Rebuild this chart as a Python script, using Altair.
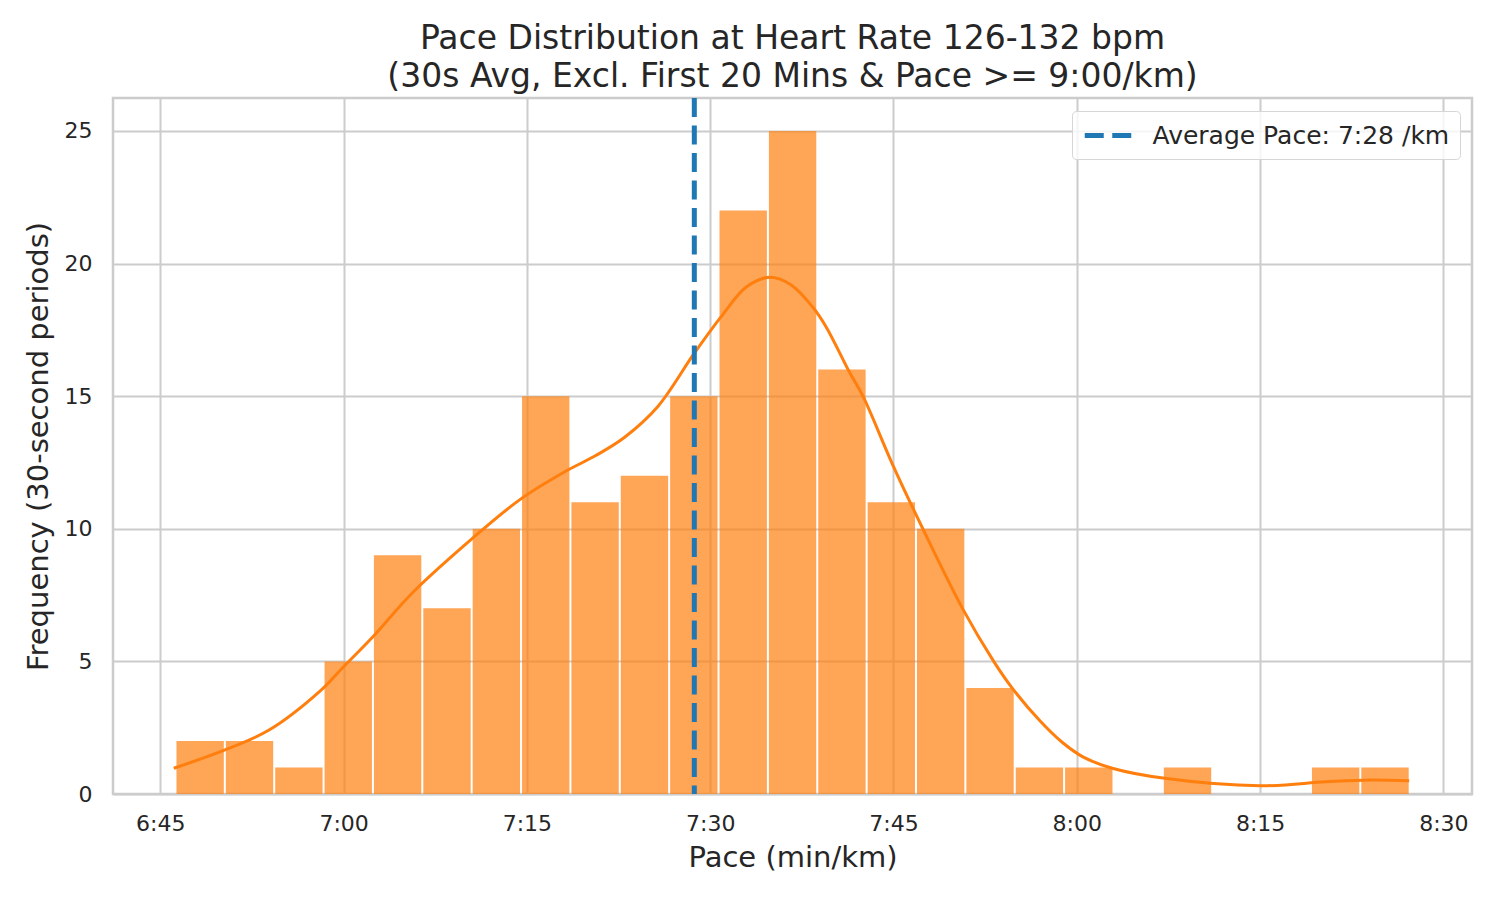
import altair as alt
import pandas as pd

# Histogram bins (pace in seconds per km) and counts
bin_edges = [406.2, 410.24, 414.28, 418.32, 422.36, 426.4, 430.44, 434.48, 438.52,
             442.56, 446.6, 450.64, 454.68, 458.72, 462.76, 466.8, 470.84, 474.88,
             478.92, 482.96, 487.0, 491.04, 495.08, 499.12, 503.16, 507.2]
counts = [2, 2, 1, 5, 9, 7, 10, 15, 11, 12, 15, 22, 25, 16, 11, 10, 4, 1, 1, 0, 1, 0, 0, 1, 1]

# KDE curve (pace seconds, scaled density)
kde_pace = [406.1, 410.3, 413.9, 418.0, 420.0, 422.4, 425.6, 430.4, 434.4, 438.1,
            440.6, 443.0, 445.7, 448.7, 450.9, 453.0, 454.9, 456.6, 458.4, 459.5,
            461.4, 462.5, 464.9, 467.4, 470.7, 473.2, 474.7, 477.0, 478.8, 480.5,
            482.9, 487.2, 495.0, 500.4, 504.0, 507.2]
kde_value = [0.97, 1.66, 2.41, 3.85, 4.8, 5.93, 7.57, 9.58, 11.09, 12.15,
             12.75, 13.45, 14.6, 16.62, 18.0, 19.13, 19.48, 19.2, 18.35, 17.6,
             15.9, 15.0, 12.45, 10.0, 6.95, 5.0, 4.0, 2.75, 1.95, 1.4,
             0.97, 0.59, 0.31, 0.46, 0.53, 0.50]

mean_pace = [448.7]
mean_label = ["Average Pace: 7:28 /km"]

x_ticks = [405, 420, 435, 450, 465, 480, 495, 510]
y_ticks = [0, 5, 10, 15, 20, 25]

title_lines = ["Pace Distribution at Heart Rate 126-132 bpm",
               "(30s Avg, Excl. First 20 Mins & Pace >= 9:00/km)"]

hist_df = pd.DataFrame({"start": bin_edges[:-1], "end": bin_edges[1:], "count": counts})
kde_df = pd.DataFrame({"pace": kde_pace, "density": kde_value})
mean_df = pd.DataFrame({"pace": mean_pace, "label": mean_label})

FONT = "DejaVu Sans"
TXT = "#262626"

xscale = alt.Scale(domain=[401.13, 512.34], nice=False, zero=False)
yscale = alt.Scale(domain=[0, 26.24], nice=False)

label_expr = "floor(datum.value/60) + ':' + (datum.value % 60 < 10 ? '0' : '') + (datum.value % 60)"

bars = alt.Chart(hist_df).mark_bar(color="#ff7f0e", opacity=0.7, binSpacing=2).encode(
    x=alt.X("start:Q", bin="binned", scale=xscale,
            axis=alt.Axis(values=x_ticks, labelExpr=label_expr, title="Pace (min/km)")),
    x2="end:Q",
    y=alt.Y("count:Q", scale=yscale,
            axis=alt.Axis(values=y_ticks, title="Frequency (30-second periods)")),
)

kde = alt.Chart(kde_df).mark_line(color="#ff7f0e", strokeWidth=3, interpolate="catmull-rom").encode(
    x=alt.X("pace:Q", scale=xscale),
    y=alt.Y("density:Q", scale=yscale),
)

rule = alt.Chart(mean_df).mark_rule(strokeWidth=5, strokeDash=[19, 8.5]).encode(
    x=alt.X("pace:Q", scale=xscale),
    color=alt.Color(
        "label:N",
        scale=alt.Scale(domain=mean_label, range=["#1f77b4"]),
        legend=alt.Legend(
            title=None, orient="none", legendX=959, legendY=13,
            symbolType="M-1,0H3", symbolSize=552.25, symbolStrokeWidth=5,
            symbolDash=[19, 8.5], symbolFillColor="transparent",
            labelFontSize=25, labelOffset=41.5,
            labelLimit=600, labelColor=TXT, labelFont=FONT,
            padding=10, fillColor="rgba(255,255,255,0.8)",
            strokeColor="#d6d6d6", cornerRadius=4,
        ),
    ),
)

chart = alt.layer(bars, kde, rule).properties(
    width=1359,
    height=696,
    title=alt.Title(title_lines, fontSize=33, lineHeight=38, font=FONT,
                    fontWeight="normal", color=TXT, anchor="middle", offset=2),
    autosize=alt.AutoSizeParams(type="none"),
    padding={"left": 105, "top": 90, "right": 20, "bottom": 98},
).configure(font=FONT).configure_view(
    stroke="#cccccc", strokeWidth=2.5
).configure_axis(
    grid=True, gridColor="#cccccc", gridWidth=2, domain=False, ticks=False, tickSize=0,
    labelFontSize=22, labelColor=TXT, labelFont=FONT,
    titleFontSize=29, titleFontWeight="normal", titleColor=TXT, titleFont=FONT,
).configure_axisX(labelPadding=19, titlePadding=9).configure_axisY(labelPadding=21, titlePadding=11)

chart.save("out.html", embed_options={"renderer": "svg", "actions": False})
